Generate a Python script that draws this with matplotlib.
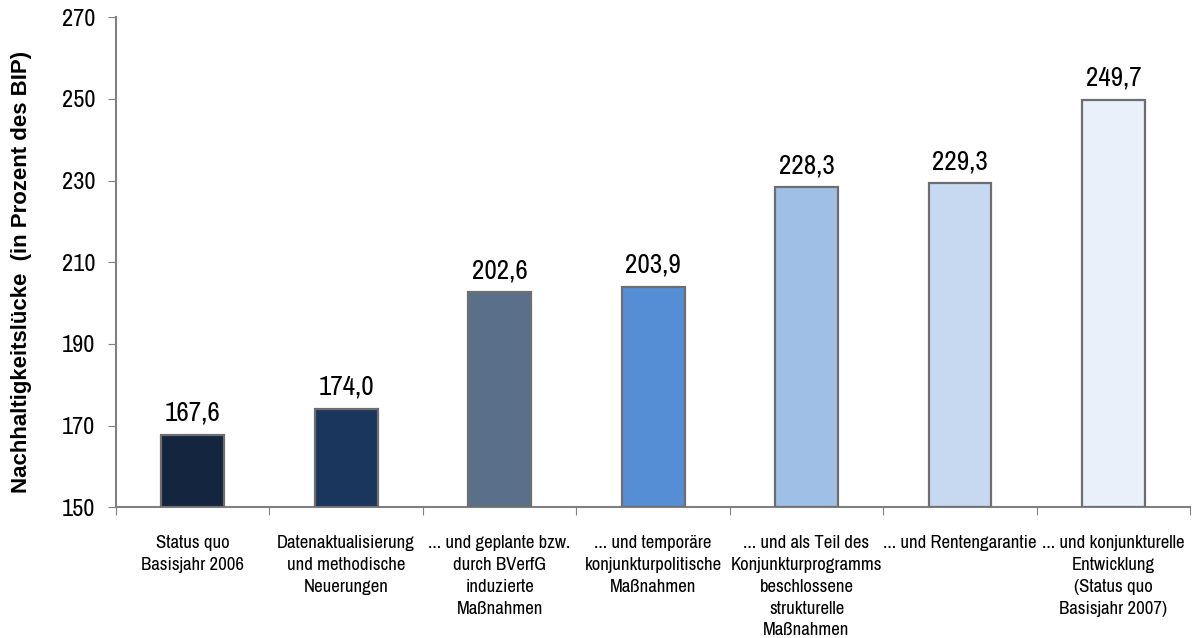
import matplotlib.pyplot as plt
import numpy as np
from matplotlib import font_manager

categories = [
    "Status quo\nBasisjahr 2006",
    "Datenaktualisierung\nund methodische\nNeuerungen",
    "... und geplante bzw.\ndurch BVerfG\ninduzierte\nMaßnahmen",
    "... und temporäre\nkonjunkturpolitische\nMaßnahmen",
    "... und als Teil des\nKonjunkturprogramms\nbeschlossene\nstrukturelle\nMaßnahmen",
    "... und Rentengarantie",
    "... und konjunkturelle\nEntwicklung\n(Status quo\nBasisjahr 2007)",
]
values = [167.6, 174.0, 202.6, 203.9, 228.3, 229.3, 249.7]
colors = ["#14253f", "#1a365c", "#5a6f8a", "#558ed5", "#a0bfe6", "#c6d9f0", "#e9f0fa"]


def narrow_font():
    # look for any condensed / narrow face that is installed
    fonts = font_manager.fontManager.ttflist
    for key in ["Narrow", "Condensed"]:
        for f in fonts:
            if key.lower() in (f.fname + f.name).lower() and f.weight in (400, "normal", "regular") \
                    and f.style == "normal":
                return font_manager.FontProperties(fname=f.fname), 1.0
    return font_manager.FontProperties(family="Liberation Sans"), 0.85


fp, scale = narrow_font()


def font(size):
    p = fp.copy()
    p.set_size(size * scale)
    return p


fig = plt.figure(figsize=(11.95, 6.38), dpi=100)
ax = fig.add_axes([0.097, 0.205, 0.899, 0.768])

x = np.arange(len(values))
ax.bar(x, np.array(values) - 150, bottom=150, width=0.41, color=colors,
       edgecolor="#6e6e6e", linewidth=1.6, zorder=3)
for xi, v in zip(x, values):
    ax.text(xi, v + 2.3, f"{v:.1f}".replace(".", ","), ha="center", va="bottom",
            fontproperties=font(19.5))

ax.set_xlim(-0.5, len(values) - 0.5)
ax.set_ylim(150, 270)
ax.set_yticks(np.arange(150, 271, 20))
ax.set_yticklabels([str(t) for t in range(150, 271, 20)], fontproperties=font(17.5))
ax.set_xticks(np.arange(-0.5, len(values), 1.0))
ax.set_xticklabels([])
ax.set_xticks(x, minor=True)
ax.set_xticklabels(categories, minor=True, fontproperties=font(13.5), linespacing=1.45, va="top")
ax.tick_params(axis="x", which="minor", length=0, pad=20)
ax.tick_params(axis="x", which="major", length=6, color="#808080", direction="out")
ax.tick_params(axis="y", length=6, color="#808080", direction="out", pad=9)

for s in ["top", "right"]:
    ax.spines[s].set_visible(False)
for s in ["left", "bottom"]:
    ax.spines[s].set_color("#808080")
    ax.spines[s].set_linewidth(1.5)

ax.set_ylabel("Nachhaltigkeitslücke  (in Prozent des BIP)", fontsize=16, fontweight="bold",
              family="Liberation Sans")
ax.yaxis.set_label_coords(-0.078, 0.48)

fig.savefig("out.png", facecolor="white")
